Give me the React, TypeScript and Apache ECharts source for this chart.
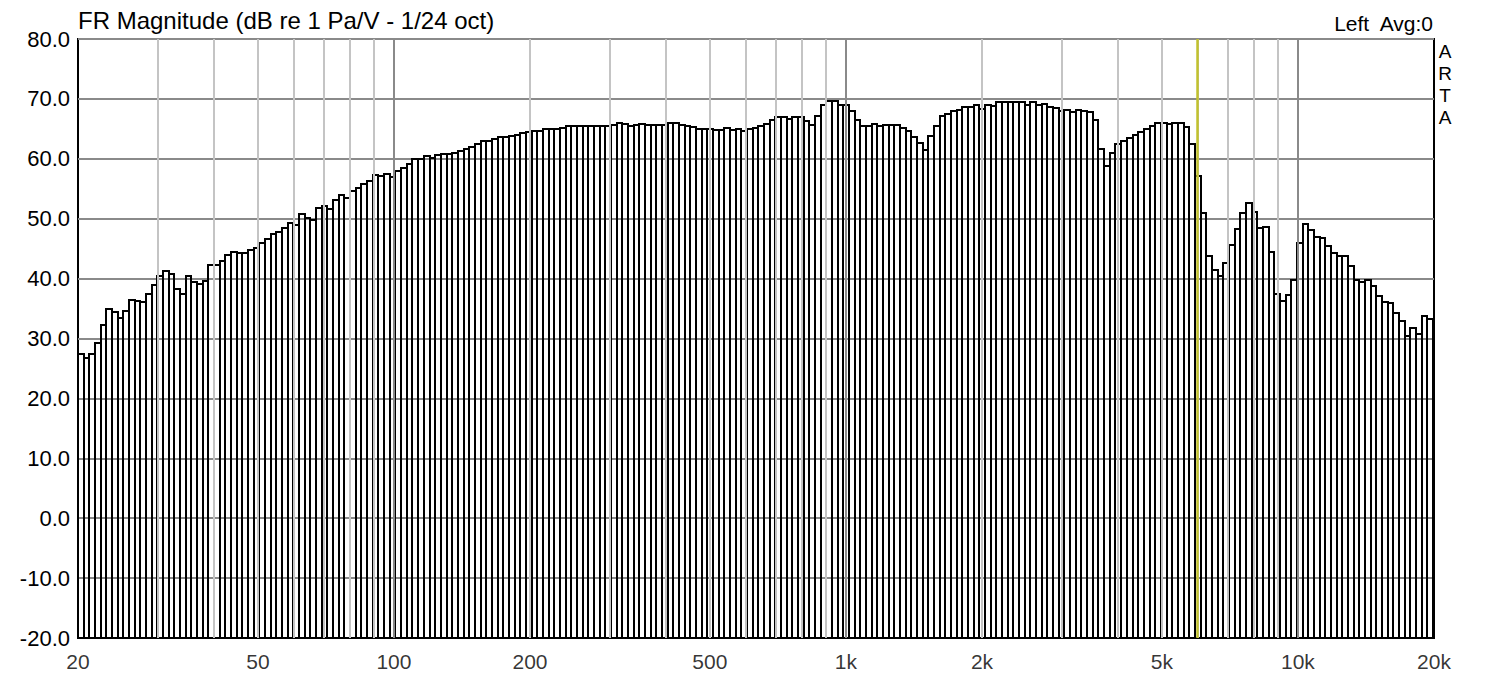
import React, { useEffect, useRef } from "react";
import * as echarts from "echarts";

// 1/24-octave bands starting at 20 Hz
const BAND_START_HZ = 20;
const BANDS_PER_OCTAVE = 24;

// Level of each band, dB re 1 Pa/V
const LEVELS_DB = [
  27.4, 26.7, 27.4, 29.2, 32.3, 35.0, 34.5, 33.5, 34.6, 36.4,
  36.2, 36.1, 37.5, 38.9, 40.5, 41.3, 40.8, 38.3, 37.5, 40.5,
  39.5, 39.1, 39.6, 42.2, 42.2, 42.9, 43.9, 44.4, 44.2, 44.2,
  44.7, 45.1, 45.9, 46.6, 47.4, 47.7, 48.4, 49.3, 49.0, 50.8,
  50.2, 49.8, 51.8, 52.1, 51.6, 53.2, 54.0, 53.5, 54.6, 55.1,
  55.8, 56.3, 57.3, 57.2, 57.4, 56.9, 57.9, 58.4, 59.2, 59.9,
  60.0, 60.4, 60.2, 60.6, 60.8, 60.8, 61.0, 61.3, 61.7, 61.9,
  62.4, 62.9, 63.0, 63.3, 63.6, 63.7, 63.8, 64.0, 64.3, 64.4,
  64.6, 64.7, 64.9, 65.0, 65.0, 65.2, 65.4, 65.4, 65.4, 65.4,
  65.4, 65.4, 65.4, 65.5, 65.6, 65.9, 65.8, 65.5, 65.7, 65.8,
  65.7, 65.7, 65.7, 65.7, 66.0, 65.9, 65.7, 65.5, 65.3, 65.0,
  64.9, 64.9, 64.8, 64.8, 65.1, 64.8, 65.0, 64.6, 65.0, 65.2,
  65.5, 65.8, 66.5, 66.9, 66.9, 66.6, 66.9, 66.9, 66.3, 65.6,
  67.1, 68.9, 69.6, 69.6, 69.0, 69.0, 68.0, 66.4, 65.4, 65.4,
  65.8, 65.5, 65.6, 65.6, 65.6, 65.1, 64.7, 63.7, 62.6, 61.5,
  63.8, 65.5, 67.1, 67.5, 68.0, 68.2, 68.6, 68.7, 68.9, 68.3,
  69.0, 68.8, 69.4, 69.4, 69.4, 69.4, 69.4, 69.0, 69.4, 68.9,
  69.1, 68.7, 68.4, 68.0, 68.1, 67.8, 68.1, 68.0, 67.8, 66.5,
  61.6, 58.8, 60.9, 62.5, 62.9, 63.5, 63.9, 64.4, 65.0, 65.5,
  65.9, 65.9, 65.8, 65.9, 66.0, 65.3, 62.4, 57.2, 51.0, 43.8,
  41.4, 40.5, 42.6, 45.6, 48.3, 50.9, 52.7, 51.2, 48.5, 48.6,
  44.4, 37.4, 36.3, 37.3, 39.8, 46.0, 49.1, 48.1, 46.9, 46.7,
  45.4, 44.3, 43.8, 43.8, 42.1, 39.7, 39.5, 39.8, 38.8, 37.1,
  36.1, 35.9, 34.3, 33.0, 30.5, 31.7, 30.7, 33.8, 33.2,
];

const X_MIN_HZ = 20;
const X_MAX_HZ = 20000;
const Y_MIN_DB = -20;
const Y_MAX_DB = 80;
const Y_STEP_DB = 10;

const X_TICK_HZ = [20, 50, 100, 200, 500, 1000, 2000, 5000, 10000, 20000];
const X_TICK_LABELS = ["20", "50", "100", "200", "500", "1k", "2k", "5k", "10k", "20k"];

const GRID_MAJOR_HZ = [100, 1000, 10000];
const GRID_MINOR_HZ = [
  30, 40, 50, 60, 70, 80, 90,
  200, 300, 400, 500, 600, 700, 800, 900,
  2000, 3000, 4000, 5000, 6000, 7000, 8000, 9000,
];

const CURSOR_HZ = 5980;

const TITLE = "FR Magnitude (dB re 1 Pa/V - 1/24 oct)";
const RIGHT_INFO = "Left  Avg:0";
const SIDE_MARK = "A\nR\nT\nA";

const FONT = "'Liberation Sans', Arial, sans-serif";

export default function App() {
  const ref = useRef<HTMLDivElement>(null);

  useEffect(() => {
    if (!ref.current) return;
    const chart = echarts.init(ref.current, null, { renderer: "svg" });

    const bands = LEVELS_DB.map((v, i) => [
      BAND_START_HZ * Math.pow(2, i / BANDS_PER_OCTAVE),
      BAND_START_HZ * Math.pow(2, (i + 1) / BANDS_PER_OCTAVE),
      v,
    ]);

    const renderBar = (params: any, api: any) => {
      const top = api.coord([api.value(0), api.value(2)]);
      const bottom = api.coord([api.value(1), Y_MIN_DB]);
      const x0 = Math.round(top[0]);
      const x1 = Math.round(bottom[0]);
      const y0 = Math.round(top[1]);
      const y1 = Math.round(bottom[1]);
      return {
        type: "rect",
        shape: { x: x0, y: y0, width: x1 - x0, height: y1 - y0 },
        style: { fill: "none", stroke: "#000", lineWidth: 2 },
      };
    };

    const gridLines = [
      ...GRID_MINOR_HZ.map((f) => ({
        xAxis: f,
        lineStyle: { color: "#c4c4c4", width: 2, type: "solid" },
      })),
      ...GRID_MAJOR_HZ.map((f) => ({
        xAxis: f,
        lineStyle: { color: "#8a8a8a", width: 2, type: "solid" },
      })),
    ];

    chart.setOption({
      animation: false,
      backgroundColor: "#ffffff",
      grid: {
        left: 78,
        top: 39,
        width: 1356,
        height: 599,
        show: true,
        borderColor: "#000",
        borderWidth: 2,
        backgroundColor: "transparent",
      },
      xAxis: {
        type: "log",
        logBase: 10,
        min: X_MIN_HZ,
        max: X_MAX_HZ,
        axisLine: { show: false },
        axisTick: { show: false },
        axisLabel: { show: false },
        splitLine: { show: false },
        minorSplitLine: { show: false },
      },
      yAxis: {
        type: "value",
        min: Y_MIN_DB,
        max: Y_MAX_DB,
        interval: Y_STEP_DB,
        axisLine: { show: false },
        axisTick: { show: false },
        axisLabel: {
          formatter: (v: number) => v.toFixed(1),
          color: "#000",
          fontSize: 22,
          fontFamily: FONT,
          margin: 8,
          verticalAlign: "middle",
          padding: [0, 0, 4, 0],
        },
        splitLine: { lineStyle: { color: "#8a8a8a", width: 2 } },
      },
      series: [
        {
          type: "scatter",
          data: [[X_MIN_HZ, Y_MIN_DB]],
          symbolSize: 0,
          silent: true,
          z: 1,
          markLine: {
            silent: true,
            symbol: ["none", "none"],
            label: { show: false },
            data: gridLines,
          },
        },
        {
          type: "custom",
          renderItem: renderBar,
          data: bands,
          encode: { x: [0, 1], y: 2 },
          silent: true,
          z: 3,
        },
        {
          type: "scatter",
          data: X_TICK_HZ.map((f) => [f, Y_MIN_DB]),
          symbolSize: 0,
          silent: true,
          clip: false,
          z: 4,
          label: {
            show: true,
            position: "bottom",
            distance: 13,
            color: "#000",
            fontSize: 21,
            fontFamily: FONT,
            formatter: (p: any) => X_TICK_LABELS[p.dataIndex],
          },
          markLine: {
            silent: true,
            symbol: ["none", "none"],
            label: { show: false },
            data: [
              {
                xAxis: CURSOR_HZ,
                lineStyle: { color: "#c2c22e", width: 2.5, type: "solid" },
              },
            ],
          },
        },
      ],
      graphic: [
        {
          type: "text",
          x: 78,
          y: 20,
          style: {
            text: TITLE,
            font: `24px ${FONT}`,
            fill: "#000",
            verticalAlign: "middle",
            align: "left",
          },
        },
        {
          type: "text",
          x: 1433,
          y: 23,
          style: {
            text: RIGHT_INFO,
            font: `21px ${FONT}`,
            fill: "#000",
            verticalAlign: "middle",
            align: "right",
          },
        },
        {
          type: "text",
          x: 1445,
          y: 84,
          style: {
            text: SIDE_MARK,
            font: `19px ${FONT}`,
            lineHeight: 22,
            fill: "#000",
            verticalAlign: "middle",
            align: "center",
          },
        },
      ],
    });

    return () => chart.dispose();
  }, []);

  return (
    <div
      ref={ref}
      style={{
        position: "fixed",
        left: 0,
        top: 0,
        width: 1489,
        height: 677,
        background: "#fff",
      }}
    />
  );
}
